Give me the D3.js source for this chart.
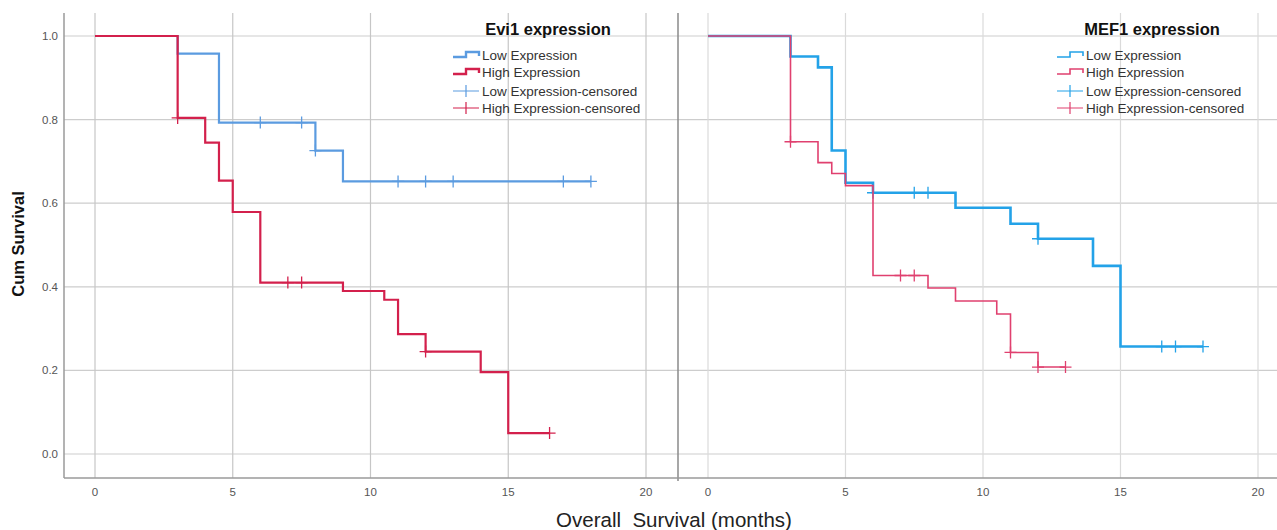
<!DOCTYPE html>
<html>
<head>
<meta charset="utf-8">
<script src="https://cdn.jsdelivr.net/npm/d3@7"></script>
<style>
  html, body { margin: 0; padding: 0; background: #fff; }
  svg { display: block; font-family: "Liberation Sans", Arial, sans-serif; }
</style>
</head>
<body>
<svg id="chart" width="1277" height="530"></svg>
<script>
// ---- Data ----
const xTicks = [0, 5, 10, 15, 20];
const yTicks = [0.0, 0.2, 0.4, 0.6, 0.8, 1.0];
const legendLabels = ["Low Expression", "High Expression", "Low Expression-censored", "High Expression-censored"];
const panelTitles = ["Evi1 expression", "MEF1 expression"];

// Evi1 panel
const evi1LowTimes = [0, 3, 4.5, 8, 9, 18];
const evi1LowSurv  = [1.0, 0.958, 0.793, 0.726, 0.652, 0.652];
const evi1LowCensor = [6, 7.5, 8, 11, 12, 13, 17, 18];

const evi1HighTimes = [0, 3, 4, 4.5, 5, 6, 9, 10.5, 11, 12, 14, 15, 16.5];
const evi1HighSurv  = [1.0, 0.804, 0.745, 0.654, 0.579, 0.41, 0.39, 0.369, 0.287, 0.245, 0.196, 0.05, 0.05];
const evi1HighCensor = [3, 7, 7.5, 12, 16.5];

// MEF1 panel
const mef1LowTimes = [0, 3, 4, 4.5, 5, 6, 9, 11, 12, 14, 15, 18];
const mef1LowSurv  = [1.0, 0.951, 0.925, 0.726, 0.649, 0.625, 0.589, 0.551, 0.515, 0.45, 0.257, 0.257];
const mef1LowCensor = [6, 7.5, 8, 12, 16.5, 17, 18];

const mef1HighTimes = [0, 3, 4, 4.5, 5, 6, 8, 9, 10.5, 11, 12, 13];
const mef1HighSurv  = [1.0, 0.747, 0.697, 0.671, 0.642, 0.427, 0.397, 0.366, 0.335, 0.243, 0.208, 0.208];
const mef1HighCensor = [3, 7, 7.5, 11, 12, 13];

// ---- Layout ----
const svg = d3.select("#chart");
const plotTop = 13, plotBottom = 478;
const y = d3.scaleLinear().domain([0, 1]).range([454, 36]);

const panels = [
  {
    title: panelTitles[0], left: 64, right: 678,
    x: d3.scaleLinear().domain([0, 20]).range([95, 646]),
    vgrid: "#c6c6c6",
    series: [
      { t: evi1LowTimes, s: evi1LowSurv, c: evi1LowCensor, color: "#5b9be0", width: 2.2, lw: 2.4 },
      { t: evi1HighTimes, s: evi1HighSurv, c: evi1HighCensor, color: "#d3204c", width: 2.2, lw: 2.4 }
    ],
    legendX: 453, titleX: 548
  },
  {
    title: panelTitles[1], left: 678, right: 1292,
    x: d3.scaleLinear().domain([0, 20]).range([708, 1258]),
    vgrid: "#dadada",
    series: [
      { t: mef1LowTimes, s: mef1LowSurv, c: mef1LowCensor, color: "#23a2e8", width: 2.6, lw: 1.6 },
      { t: mef1HighTimes, s: mef1HighSurv, c: mef1HighCensor, color: "#e0406f", width: 1.6, lw: 1.6 }
    ],
    legendX: 1057, titleX: 1152
  }
];

function stepValue(times, surv, t) {
  let v = surv[0];
  for (let i = 0; i < times.length; i++) if (times[i] <= t + 1e-9) v = surv[i];
  return v;
}

panels.forEach(p => {
  const g = svg.append("g");
  // horizontal gridlines
  g.selectAll(".hg").data(yTicks).enter().append("line")
    .attr("x1", p.left).attr("x2", p.right)
    .attr("y1", d => y(d)).attr("y2", d => y(d))
    .attr("stroke", "#cdcdcd").attr("stroke-width", 1.2);
  // vertical gridlines
  g.selectAll(".vg").data(xTicks).enter().append("line")
    .attr("x1", d => p.x(d)).attr("x2", d => p.x(d))
    .attr("y1", plotTop).attr("y2", plotBottom)
    .attr("stroke", p.vgrid).attr("stroke-width", 1.2);
  // x tick labels
  g.selectAll(".xt").data(xTicks).enter().append("text")
    .attr("x", d => p.x(d)).attr("y", 496)
    .attr("text-anchor", "middle").attr("font-size", 11.5).attr("fill", "#555")
    .text(d => d);

  // title
  g.append("text").attr("x", p.titleX).attr("y", 35)
    .attr("text-anchor", "middle").attr("font-size", 16.5).attr("font-weight", "bold")
    .attr("fill", "#111").text(p.title);

  // lines
  const line = d3.line().x(d => p.x(d[0])).y(d => y(d[1])).curve(d3.curveStepAfter);
  p.series.forEach(s => {
    const pts = s.t.map((t, i) => [t, s.s[i]]);
    g.append("path").attr("d", line(pts)).attr("fill", "none")
      .attr("stroke", s.color).attr("stroke-width", s.width);
    g.selectAll(null).data(s.c).enter().append("path")
      .attr("d", d => {
        const cx = p.x(d), cy = y(stepValue(s.t, s.s, d));
        return `M${cx},${cy - 6}V${cy + 6}M${cx - 6},${cy}H${cx + 6}`;
      })
      .attr("fill", "none").attr("stroke", s.color).attr("stroke-width", 1.3);
  });

  // legend
  const rows = [55, 72, 91, 108];
  legendLabels.forEach((lab, i) => {
    const s = p.series[i % 2];
    const ly = rows[i];
    const lx = p.legendX;
    if (i < 2) {
      g.append("path")
        .attr("d", `M${lx},${ly + 2}H${lx + 13}V${ly - 3}H${lx + 26}V${ly + 1}`)
        .attr("fill", "none").attr("stroke", s.color).attr("stroke-width", s.lw);
    } else {
      g.append("path")
        .attr("d", `M${lx},${ly}H${lx + 26}M${lx + 13},${ly - 6}V${ly + 6}`)
        .attr("fill", "none").attr("stroke", s.color).attr("stroke-width", 1.2);
    }
    g.append("text").attr("x", lx + 29).attr("y", ly + 5)
      .attr("font-size", 13.5).attr("fill", "#333").text(lab);
  });
});

// frame
svg.append("line").attr("x1", 64).attr("x2", 64).attr("y1", plotTop).attr("y2", plotBottom)
  .attr("stroke", "#9a9a9a").attr("stroke-width", 1.5);
svg.append("line").attr("x1", 678).attr("x2", 678).attr("y1", plotTop).attr("y2", plotBottom + 3)
  .attr("stroke", "#8a8a8a").attr("stroke-width", 1.5);
svg.append("line").attr("x1", 64).attr("x2", 1277).attr("y1", plotBottom).attr("y2", plotBottom)
  .attr("stroke", "#9a9a9a").attr("stroke-width", 1.5);

// y tick labels
svg.selectAll(".yt").data(yTicks).enter().append("text")
  .attr("x", 58).attr("y", d => y(d) + 4)
  .attr("text-anchor", "end").attr("font-size", 11.5).attr("fill", "#555")
  .text(d => d.toFixed(1));

// axis titles
svg.append("text").attr("transform", "translate(24,244) rotate(-90)")
  .attr("text-anchor", "middle").attr("font-size", 16.5).attr("font-weight", "bold")
  .attr("fill", "#111").text("Cum Survival");
svg.append("text").attr("x", 674).attr("y", 527)
  .attr("text-anchor", "middle").attr("font-size", 20.5).attr("fill", "#222")
  .attr("xml:space", "preserve").style("white-space", "pre")
  .text("Overall  Survival (months)");
</script>
</body>
</html>
